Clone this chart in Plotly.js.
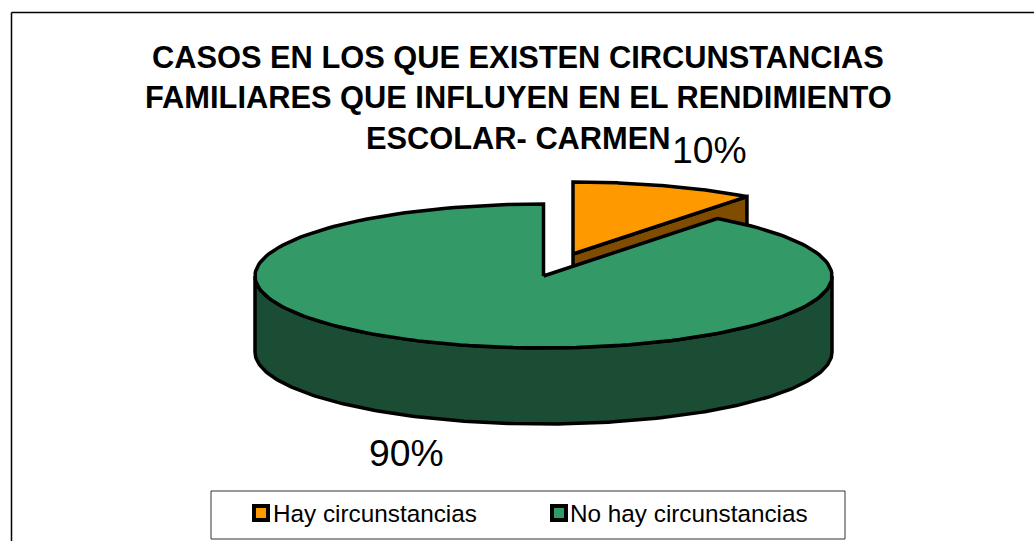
<!DOCTYPE html>
<html>
<head>
<meta charset="utf-8">
<script src="https://cdn.plot.ly/plotly-3.0.1.min.js"></script>
<style>html,body{margin:0;padding:0;background:#fff}#chart{width:1034px;height:541px}</style>
</head>
<body>
<div id="chart"></div>
<script>
var categories = ['Hay circunstancias', 'No hay circunstancias'];
var shares = [10, 90];
var percentLabels = ['10%', '90%'];
var titleLines = ['CASOS EN LOS QUE EXISTEN CIRCUNSTANCIAS', 'FAMILIARES QUE INFLUYEN EN EL RENDIMIENTO', 'ESCOLAR- CARMEN'];
var topColors = ['#FF9900', '#339966'];
var sideColors = ['#804D00', '#1A4D33'];

// Drawing set-up of the tilted pie, in axis units (axes span the page).
var RX = 288.5, RY = 72, DEPTH = 76;
var CENTER = [543.5, 276];
var EXPLODED = [573, 254];
var VIEW_STRETCH = 1.03;   // angular distortion of the tilted view
var FONT = 'Liberation Sans, Arial, sans-serif';
var LINE = {color: '#000', width: 3.5};

var total = shares[0] + shares[1];
var cut = shares[0] / total * 2 * Math.PI * VIEW_STRETCH;   // clockwise from 12 o'clock

function rim(c, a) { return [c[0] + RX * Math.sin(a), c[1] - RY * Math.cos(a)]; }
function arc(c, a0, a1, dy) {
  var xs = [], ys = [], n = 180;
  for (var i = 0; i <= n; i++) {
    var p = rim(c, a0 + (a1 - a0) * i / n);
    xs.push(p[0]); ys.push(p[1] + dy);
  }
  return {x: xs, y: ys};
}
function poly(xs, ys, fill) {
  return {type: 'scatter', mode: 'lines', x: xs, y: ys, fill: 'toself', fillcolor: fill,
          line: LINE, hoverinfo: 'skip', showlegend: false};
}

var traces = [];
// Orange slice: inner side face, then top
var oEnd = rim(EXPLODED, cut);
traces.push(poly([EXPLODED[0], oEnd[0], oEnd[0], EXPLODED[0], EXPLODED[0]],
                 [EXPLODED[1], oEnd[1], oEnd[1] + DEPTH, EXPLODED[1] + DEPTH, EXPLODED[1]], sideColors[0]));
var oTop = arc(EXPLODED, 0, cut, 0);
traces.push(poly([EXPLODED[0]].concat(oTop.x, [EXPLODED[0]]), [EXPLODED[1]].concat(oTop.y, [EXPLODED[1]]), topColors[0]));

// Green slice: outer wall (front half of the rim), then top
var wTop = arc(CENTER, Math.PI / 2, 3 * Math.PI / 2, 0);
var wBot = arc(CENTER, 3 * Math.PI / 2, Math.PI / 2, DEPTH);
traces.push(poly(wTop.x.concat(wBot.x, [wTop.x[0]]), wTop.y.concat(wBot.y, [wTop.y[0]]), sideColors[1]));
var gTop = arc(CENTER, cut, 2 * Math.PI, 0);
traces.push(poly([CENTER[0]].concat(gTop.x, [CENTER[0]]), [CENTER[1]].concat(gTop.y, [CENTER[1]]), topColors[1]));

var annotations = titleLines.map(function (t, i) {
  return {x: 518, y: 57 + i * 40.5, xref: 'x', yref: 'y', text: t, showarrow: false, xanchor: 'center', yanchor: 'middle',
          font: {family: FONT, size: 30.8, color: '#000', weight: 700}};
});
annotations.push({x: 709.5, y: 150, xref: 'x', yref: 'y', text: percentLabels[0], showarrow: false, xanchor: 'center', yanchor: 'middle',
                  font: {family: FONT, size: 37.3, color: '#000'}});
annotations.push({x: 406.5, y: 453, xref: 'x', yref: 'y', text: percentLabels[1], showarrow: false, xanchor: 'center', yanchor: 'middle',
                  font: {family: FONT, size: 37.3, color: '#000'}});
annotations.push({x: 271, y: 513, xref: 'x', yref: 'y', text: categories[0], showarrow: false, xanchor: 'left', yanchor: 'middle',
                  font: {family: FONT, size: 24.3, color: '#000'}});
annotations.push({x: 568, y: 513, xref: 'x', yref: 'y', text: categories[1], showarrow: false, xanchor: 'left', yanchor: 'middle',
                  font: {family: FONT, size: 24.3, color: '#000'}});

var frame = {color: '#000', width: 1.5};
var shapes = [
  {type: 'line', xref: 'x', yref: 'y', x0: 11.5, x1: 1034, y0: 12.5, y1: 12.5, line: frame, layer: 'below'},
  {type: 'line', xref: 'x', yref: 'y', x0: 11.5, x1: 11.5, y0: 12.5, y1: 541, line: frame, layer: 'below'},
  {type: 'rect', xref: 'x', yref: 'y', x0: 211, x1: 845, y0: 491, y1: 539, line: {color: '#333', width: 1}, fillcolor: '#fff', layer: 'below'},
  {type: 'rect', xref: 'x', yref: 'y', x0: 254, x1: 268, y0: 506, y1: 520, line: {color: '#000', width: 4}, fillcolor: topColors[0]},
  {type: 'rect', xref: 'x', yref: 'y', x0: 552, x1: 566, y0: 506, y1: 520, line: {color: '#000', width: 4}, fillcolor: topColors[1]}
];

var layout = {
  width: 1034, height: 541,
  margin: {l: 0, r: 0, t: 0, b: 0},
  paper_bgcolor: '#fff', plot_bgcolor: '#fff',
  showlegend: false,
  xaxis: {range: [0, 1034], visible: false, fixedrange: true},
  yaxis: {range: [541, 0], visible: false, fixedrange: true},
  annotations: annotations,
  shapes: shapes
};
Plotly.newPlot('chart', traces, layout, {displayModeBar: false, staticPlot: true});
</script>
</body>
</html>
